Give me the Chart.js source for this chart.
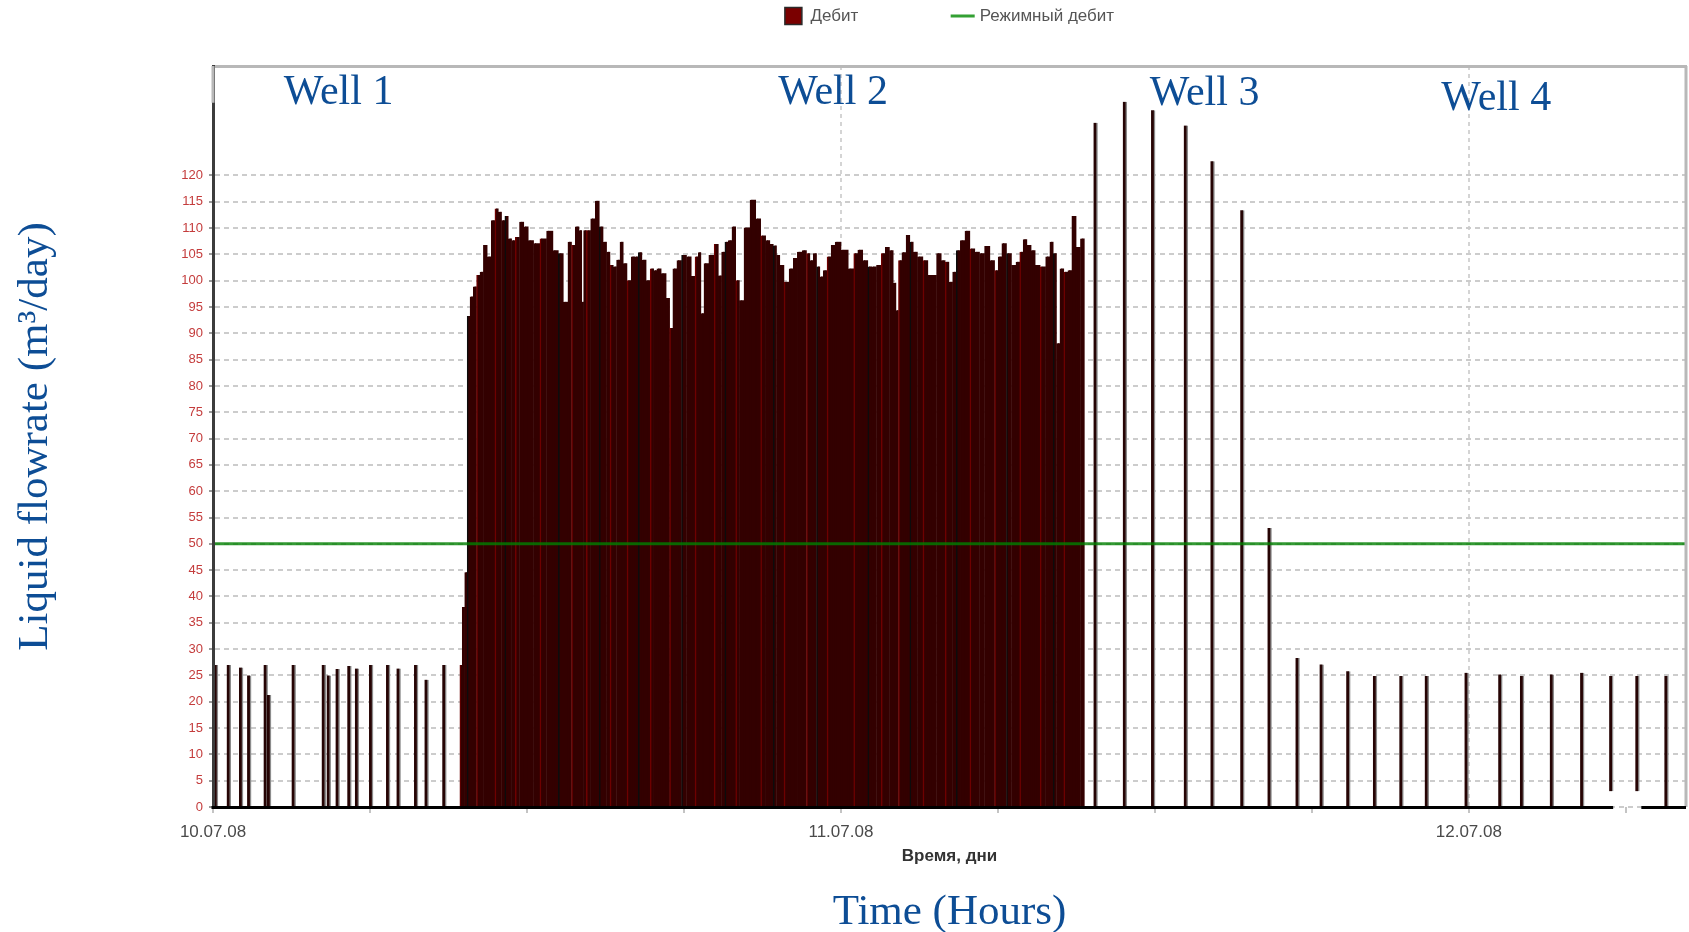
<!DOCTYPE html>
<html>
<head>
<meta charset="utf-8">
<script src="https://cdn.jsdelivr.net/npm/chart.js@4.4.1/dist/chart.umd.min.js"></script>
<style>
  html, body { margin: 0; padding: 0; background: #ffffff; }
  canvas { display: block; }
</style>
</head>
<body>
<canvas id="c" width="1689" height="932"></canvas>
<script>
// ---- data (hours from 10.07.08 00:00, flowrate m3/day) ----
const denseHours = [9.49, 9.58, 9.68, 9.77, 9.90, 10.02, 10.15, 10.28, 10.41, 10.57,
  10.72, 10.85, 10.98, 11.10, 11.23, 11.36, 11.49, 11.64, 11.81, 11.97,
  12.15, 12.38, 12.63, 12.89, 13.12, 13.30, 13.50, 13.65, 13.78, 13.93,
  14.07, 14.14, 14.21, 14.35, 14.54, 14.70, 14.85, 14.99, 15.12, 15.25,
  15.37, 15.50, 15.63, 15.75, 15.92, 16.07, 16.20, 16.33, 16.48, 16.65,
  16.79, 16.92, 17.03, 17.25, 17.41, 17.52, 17.65, 17.83, 18.01, 18.21,
  18.37, 18.50, 18.62, 18.70, 18.85, 19.07, 19.26, 19.39, 19.51, 19.64,
  19.77, 19.92, 20.06, 20.20, 20.41, 20.66, 20.85, 21.04, 21.23, 21.36,
  21.49, 21.61, 21.74, 21.93, 22.13, 22.25, 22.44, 22.63, 22.76, 22.89,
  23.02, 23.14, 23.27, 23.40, 23.56, 23.71, 23.87, 24.16, 24.42, 24.58,
  24.73, 24.96, 25.12, 25.27, 25.47, 25.63, 25.78, 25.95, 26.07, 26.16,
  26.26, 26.42, 26.58, 26.71, 26.84, 27.03, 27.26, 27.41, 27.56, 27.77,
  27.92, 28.07, 28.21, 28.35, 28.49, 28.66, 28.84, 29.04, 29.22, 29.40,
  29.60, 29.81, 29.96, 30.08, 30.24, 30.44, 30.62, 30.78, 30.91, 31.04,
  31.20, 31.36, 31.51, 31.74, 31.93, 32.06, 32.19, 32.31, 32.45, 32.61,
  32.76, 32.91, 33.09, 33.24];
const denseRate = [27, 38, 44.6, 93.3, 97.0, 98.9, 101.1, 101.7, 106.8, 104.6,
  111.5, 113.7, 113.1, 111.5, 112.3, 108, 107.7, 108.3, 111.2, 110.3,
  107.7, 107.1, 108, 109.5, 105.8, 105.2, 96.0, 107.4, 106.8, 110.3,
  109.6, 96, 109.6, 109.6, 111.8, 115.2, 110.3, 107.4, 105.5, 103,
  102.7, 104, 107.4, 103.3, 100.1, 104.6, 104.6, 105.4, 104, 100.1,
  102.3, 102.0, 102.3, 101.4, 96.7, 91.0, 102.3, 103.9, 104.9, 104.6,
  100.9, 104.6, 105.4, 93.8, 103.3, 104.9, 107.0, 101, 105.5, 107.4,
  107.7, 110.3, 100.1, 96.3, 110.1, 115.4, 111.8, 108.6, 107.7, 107.0,
  106.7, 104.9, 103.0, 99.8, 102.3, 104.3, 105.5, 105.8, 105.2, 103.9,
  105.2, 102.7, 100.8, 102.0, 104.6, 106.8, 107.4, 105.9, 102.3, 105.2,
  105.9, 103.9, 102.7, 102.7, 103.0, 105.2, 106.4, 105.8, 99.6, 94.4,
  103.9, 105.4, 108.7, 107.4, 105.5, 104.6, 103.9, 101.1, 101.1, 105.2,
  103.9, 103.6, 99.8, 101.7, 105.8, 107.7, 109.5, 106.1, 105.5, 105.2,
  106.6, 103.9, 102.0, 104.6, 107.1, 105.2, 103.0, 103.6, 105.5, 107.9,
  106.8, 105.8, 103.0, 102.7, 104.6, 107.4, 105.2, 88.1, 102.3, 101.7,
  102.0, 112.3, 106.4, 108.0];

const sampleHours = [0.11, 0.60, 1.07, 1.38, 2.01, 2.14, 3.08, 4.23, 4.42, 4.76,
  5.21, 5.50, 6.04, 6.69, 7.09, 7.76, 8.16, 8.84,
  33.73, 34.85, 35.93, 37.18, 38.20, 39.34, 40.38, 41.45, 42.37, 43.39,
  44.41, 45.42, 46.39, 47.91, 49.20, 50.03, 51.17, 52.33, 53.44, 54.44, 55.55];
const sampleRate = [27, 27, 26.5, 25, 27, 21.3, 27, 27, 25, 26.2,
  26.8, 26.3, 27, 27, 26.3, 27, 24.2, 27,
  130.0, 134.0, 132.4, 129.5, 122.7, 113.4, 53.0, 28.3, 27.1, 25.8,
  24.9, 24.9, 24.9, 25.5, 25.2, 24.9, 25.2, 25.5, 24.9, 24.9, 24.9];
const sampleBase = [0, 0, 0, 0, 0, 0, 0, 0, 0, 0,
  0, 0, 0, 0, 0, 0, 0, 0,
  0, 0, 0, 0, 0, 0, 0, 0, 0, 0,
  0, 0, 0, 0, 0, 0, 0, 0, 3, 3, 0];

const regimeHours = [0, 56.3];
const regimeRate = [50, 50];

const yTickValues = [0, 5, 10, 15, 20, 25, 30, 35, 40, 45, 50, 55, 60, 65, 70, 75, 80, 85, 90, 95, 100, 105, 110, 115, 120];
const xTickHours = [0, 24, 48];
const xTickLabels = ['10.07.08', '11.07.08', '12.07.08'];

const wellNames = ['Well 1', 'Well 2', 'Well 3', 'Well 4'];
const wellHours = [2.7, 21.6, 35.8, 46.95];
const wellLevels = [133.5, 133.5, 133.3, 132.4];
const yAxisLineTop = 133.8;

// ---- chart ----
Chart.defaults.font.family = '"Liberation Sans", Arial, sans-serif';
const serif = '"Liberation Serif", "Times New Roman", serif';
const blue = '#0d4d95';
const stripes = ['#6e0000', '#330000', '#330000', '#0c0c0c', '#330000', '#330000', '#6e0000', '#330000', '#330000', '#330000', '#330000'];

const decor = {
  id: 'decor',
  afterDraw(chart) {
    const { ctx, chartArea: a, scales: { x, y } } = chart;
    ctx.save();
    // plot frame (light part)
    ctx.strokeStyle = '#b8b8b8';
    ctx.lineWidth = 3;
    ctx.beginPath();
    ctx.moveTo(a.right, a.top);
    ctx.lineTo(a.right, a.bottom);
    ctx.moveTo(a.left, a.top);
    ctx.lineTo(a.left, y.getPixelForValue(yAxisLineTop));
    ctx.stroke();
    // zero level of the flowrate series (interrupted where the series stays above zero)
    const y0 = Math.round(y.getPixelForValue(0)) + 0.5;
    const raised = sampleHours.filter((h, i) => sampleBase[i] > 0).map(h => x.getPixelForValue(h));
    ctx.strokeStyle = '#000000';
    ctx.beginPath();
    ctx.moveTo(a.left - 1.5, y0);
    if (raised.length) {
      ctx.lineTo(raised[0] + 2, y0);
      ctx.moveTo(raised[raised.length - 1] + 4, y0);
    }
    ctx.lineTo(a.right, y0);
    ctx.stroke();
    // well labels
    ctx.fillStyle = blue;
    ctx.font = '42px ' + serif;
    ctx.textAlign = 'left';
    ctx.textBaseline = 'alphabetic';
    wellNames.forEach((t, i) => {
      ctx.fillText(t, x.getPixelForValue(wellHours[i]), y.getPixelForValue(wellLevels[i]));
    });
    ctx.restore();
  }
};

const LEG_PAD = 96;

new Chart(document.getElementById('c'), {
  type: 'bar',
  data: {
    datasets: [
      {
        label: 'Дебит',
        data: denseHours.map((h, i) => ({ x: h, y: denseRate[i] })),
        barThickness: 'flex',
        categoryPercentage: 1,
        barPercentage: 1,
        inflateAmount: 0.6,
        backgroundColor: '#330000',
        borderColor: c => stripes[c.dataIndex % stripes.length],
        borderWidth: { left: 1.5, right: 0, top: 0, bottom: 0 },
        borderSkipped: 'start',
        order: 2
      },
      {
        label: 'Дебит',
        data: sampleHours.map((h, i) => ({ x: h, y: [sampleBase[i], sampleRate[i]] })),
        barThickness: 4,
        grouped: false,
        backgroundColor: '#260404',
        borderColor: '#8c8c8c',
        borderWidth: { left: 0, right: 1.5, top: 0, bottom: 0 },
        borderSkipped: 'start',
        order: 1
      },
      {
        type: 'line',
        label: 'Режимный дебит',
        data: regimeHours.map((h, i) => ({ x: h, y: regimeRate[i] })),
        borderColor: 'rgba(0,128,0,0.8)',
        borderWidth: 3,
        pointRadius: 0,
        fill: false,
        order: 0
      }
    ]
  },
  options: {
    responsive: false,
    animation: false,
    devicePixelRatio: 1,
    events: [],
    layout: { autoPadding: false, padding: { top: 7.5 - LEG_PAD, right: 3, bottom: -2, left: 0 } },
    plugins: {
      tooltip: { enabled: false },
      legend: {
        position: 'top',
        fullSize: false,
        labels: {
          usePointStyle: true,
          padding: LEG_PAD,
          color: '#555555',
          font: { size: 17 },
          generateLabels(chart) {
            return Chart.defaults.plugins.legend.labels.generateLabels(chart)
              .filter(it => it.datasetIndex !== 1)
              .sort((a, b) => a.datasetIndex - b.datasetIndex)
              .map(it => it.datasetIndex === 0
                ? Object.assign(it, { fillStyle: '#7a0000', strokeStyle: '#2a2a2a', lineWidth: 1.5, pointStyle: 'rect' })
                : Object.assign(it, { fillStyle: '#33a033', strokeStyle: '#33a033', lineWidth: 3, pointStyle: 'line' }));
          }
        }
      },
      title: {
        display: true,
        text: 'Time (Hours)',
        position: 'bottom',
        fullSize: false,
        color: blue,
        font: { family: serif, size: 43, weight: 'normal', lineHeight: 1 },
        padding: { top: 2, bottom: 0 }
      }
    },
    scales: {
      x: {
        type: 'linear',
        min: 0,
        max: 56.3,
        offset: false,
        grid: {
          offset: false,
          color: c => (c.tick && c.tick.value > 0 && c.tick.value % 24 === 0) ? '#d4d4d4' : 'rgba(0,0,0,0)',
          lineWidth: 2,
          tickColor: '#b0b0b0',
          tickLength: 6,
          tickWidth: 1.5
        },
        border: { display: false, dash: [4, 4] },
        ticks: {
          stepSize: 6,
          includeBounds: false,
          autoSkip: false,
          maxRotation: 0,
          padding: 9,
          color: '#4a4a4a',
          font: { size: 17 },
          callback: v => { const i = xTickHours.indexOf(v); return i < 0 ? '' : xTickLabels[i]; }
        },
        title: {
          display: true,
          text: 'Время, дни',
          color: '#333333',
          font: { size: 17, weight: 'bold' },
          padding: { top: 0, bottom: 22 }
        },
        afterFit: s => { s.height = 82; }
      },
      x2: {
        type: 'linear',
        position: 'top',
        display: true,
        grid: { display: false, drawTicks: false },
        ticks: { display: false },
        border: { display: true, color: '#b8b8b8', width: 3 },
        afterFit: s => { s.height = 31.5; }
      },
      y: {
        min: 0,
        max: 140.8,
        afterBuildTicks: s => { s.ticks = yTickValues.map(v => ({ value: v })); },
        grid: { color: '#cccccc', lineWidth: 2, tickColor: '#9a9a9a', tickLength: 4, tickWidth: 2 },
        border: { display: true, color: '#3c3c3c', width: 3, dash: [5, 4], z: 1 },
        ticks: { padding: 6, color: '#c43c3c', font: { size: 13 } },
        title: {
          display: true,
          text: 'Liquid flowrate (m³/day)',
          color: blue,
          font: { family: serif, size: 43, lineHeight: 1 },
          padding: { top: 14, bottom: 0 }
        },
        afterFit: s => { s.width = 213; }
      }
    }
  },
  plugins: [decor]
});
</script>
</body>
</html>
